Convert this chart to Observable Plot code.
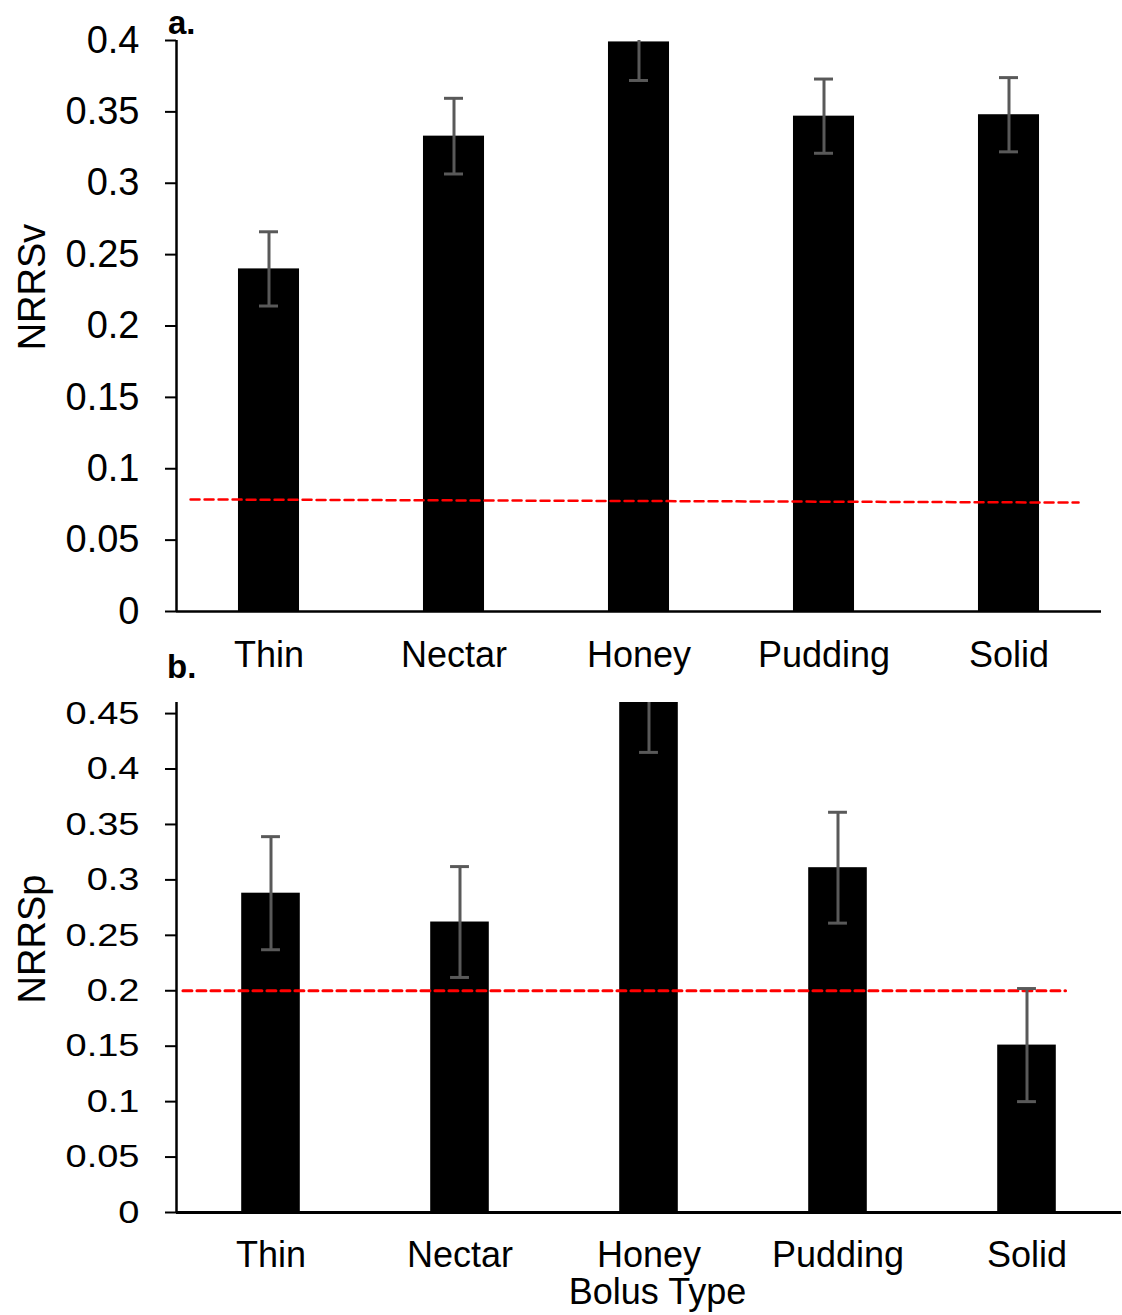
<!DOCTYPE html>
<html>
<head>
<meta charset="utf-8">
<script src="https://cdn.jsdelivr.net/npm/d3@7"></script>
<script src="https://cdn.jsdelivr.net/npm/@observablehq/plot@0.6"></script>
<style>
  html, body { margin: 0; padding: 0; background: #fff; }
  #wrap { position: relative; width: 1122px; height: 1315px; overflow: hidden; background: #fff;
          font-family: "Liberation Sans", Arial, sans-serif; color: #000; }
  .panel { position: absolute; left: 0; }
  #panelBLabels svg { transform: scaleY(0.82); transform-origin: 0 0; }
  .tag { position: absolute; font-weight: bold; font-size: 33px; line-height: 1; }
  .ytitle { position: absolute; font-size: 38px; line-height: 1; white-space: nowrap;
            transform: translate(-50%, -50%) rotate(-90deg); }
</style>
</head>
<body>
<div id="wrap">
  <div id="panelA" class="panel" style="top:0"></div>
  <div id="panelB" class="panel" style="top:640px"></div>
  <div id="panelBLabels" class="panel" style="top:640px"></div>
  <div class="tag" style="left:168px; top:6px">a.</div>
  <div class="tag" style="left:167px; top:650px">b.</div>
  <div class="ytitle" style="left:32px; top:287px">NRRSv</div>
  <div class="ytitle" style="left:32px; top:939px">NRRSp</div>
</div>
<script>
// ---- data ----
const categories = ["Thin", "Nectar", "Honey", "Pudding", "Solid"];
const nrrsv      = [0.240, 0.333, 0.399, 0.347, 0.348];
const nrrsvErr   = [0.026, 0.0265, 0.027, 0.026, 0.026];
const nrrsp      = [0.288, 0.262, 0.465, 0.311, 0.151];
const nrrspErr   = [0.051, 0.050, 0.050, 0.050, 0.051];
// dashed reference lines (position on category index axis, value)
const refLineA = [{pos: -0.424, v: 0.0785}, {pos: 4.376, v: 0.0763}];
const refLineB = [{pos: -0.466, v: 0.2}, {pos: 4.204, v: 0.2}];
const yTicksA = [0, 0.05, 0.1, 0.15, 0.2, 0.25, 0.3, 0.35, 0.4];
const yTicksB = [0, 0.05, 0.1, 0.15, 0.2, 0.25, 0.3, 0.35, 0.4, 0.45];
const yMaxA = 0.4, yMaxB = 0.46;
const xTitle = "Bolus Type";

const idx = categories.map((_, i) => i);
const rowsA = categories.map((c, i) => ({i, c, v: nrrsv[i], e: nrrsvErr[i]}));
const rowsB = categories.map((c, i) => ({i, c, v: nrrsp[i], e: nrrspErr[i]}));

const errColor = "#595959";
const font = "'Liberation Sans', Arial, sans-serif";

function panel(rows, ref, yTicks, yMax, opts) {
  const bw = opts.barFrac / 2, cap = opts.capFrac / 2;
  const marks = [
    Plot.rectY(rows, {x1: d => d.i - bw, x2: d => d.i + bw, y: "v", fill: "#000", clip: true}),
    Plot.line(ref, {x: "pos", y: "v", stroke: "#ff0000", strokeWidth: opts.dashW, strokeDasharray: "9,5"}),
    Plot.ruleX(rows, {x: "i", y1: d => d.v - d.e, y2: d => d.v + d.e, stroke: errColor, strokeWidth: 3, clip: true}),
    Plot.ruleY(rows, {y: d => d.v - d.e, x1: d => d.i - cap, x2: d => d.i + cap, stroke: errColor, strokeWidth: 3, clip: true}),
    Plot.ruleY(rows, {y: d => d.v + d.e, x1: d => d.i - cap, x2: d => d.i + cap, stroke: errColor, strokeWidth: 3, clip: true}),
    Plot.ruleX([-0.5], {stroke: "#000", strokeWidth: 2.5}),
    Plot.ruleY([0], {stroke: "#000", strokeWidth: opts.axisW}),
    Plot.axisY(yTicks, {tickSize: 11, tickPadding: 26, fontSize: 38,
      tickFormat: opts.yLabels ? (d => String(d)) : (() => ""), label: null, strokeWidth: 2}),
    Plot.axisX(idx, {tickSize: 0, tickPadding: opts.xPad, tickFormat: i => categories[i], label: null})
  ];
  if (opts.title) {
    marks.push(Plot.text([opts.title], {text: d => d, frameAnchor: "bottom", lineAnchor: "middle",
      dy: opts.titleDy, dx: 8.5, fontSize: 36}));
  }
  return Plot.plot({
    width: 1122,
    height: opts.height,
    marginLeft: 176,
    marginRight: opts.marginRight,
    marginTop: opts.marginTop,
    marginBottom: opts.marginBottom,
    x: {type: "linear", domain: [-0.5, 4.5], axis: null},
    y: {domain: [0, yMax], axis: null},
    style: {fontFamily: font, fontSize: "36px", color: "#000", background: "transparent", overflow: "visible"},
    marks
  });
}

document.getElementById("panelA").append(panel(rowsA, refLineA, yTicksA, yMaxA, {
  height: 690, marginTop: 40, marginBottom: 79, marginRight: 21,
  barFrac: 0.33, capFrac: 0.103, dashW: 2.5, axisW: 2.5, xPad: 29.5, yLabels: true
}));
document.getElementById("panelB").append(panel(rowsB, refLineB, yTicksB, yMaxB, {
  height: 675, marginTop: 62, marginBottom: 103, marginRight: 1,
  barFrac: 0.31, capFrac: 0.10, dashW: 3, axisW: 3, xPad: 28.5, yLabels: false,
  title: xTitle, titleDy: 79.5
}));
// panel b tick labels are drawn vertically compressed, as in the original figure
document.getElementById("panelBLabels").append(Plot.plot({
  width: 1122, height: 823, marginLeft: 176, marginRight: 1, marginTop: 76, marginBottom: 125,
  x: {type: "linear", domain: [-0.5, 4.5], axis: null},
  y: {domain: [0, yMaxB], axis: null},
  style: {fontFamily: font, fontSize: "38px", color: "#000", background: "transparent", overflow: "visible"},
  marks: [
    Plot.axisY(yTicksB, {tickSize: 11, tickPadding: 26, fontSize: 38, tickFormat: d => String(d), label: null, stroke: "none"})
  ]
}));
</script>
</body>
</html>
